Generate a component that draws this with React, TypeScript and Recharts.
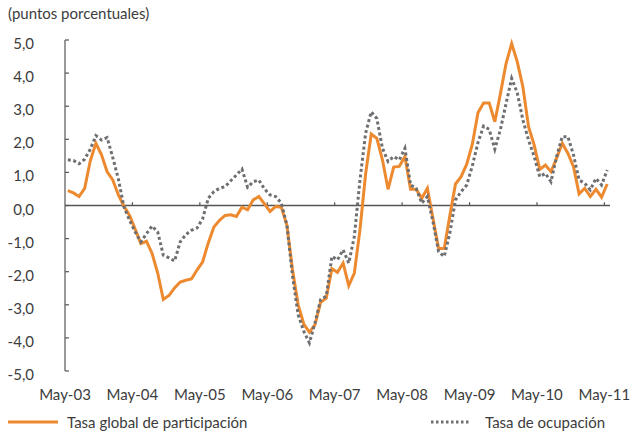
import React from "react";
import { LineChart, Line, XAxis, YAxis, ReferenceLine } from "recharts";

// monthly series, May-03 .. May-11 (97 points)
const tasaGlobal = [
  0.45, 0.38, 0.27, 0.52, 1.35, 1.88, 1.53, 1.02, 0.77, 0.32, -0.02, -0.3,
  -0.72, -1.15, -1.08, -1.45, -2.04, -2.84, -2.72, -2.49, -2.31, -2.26, -2.22, -1.95,
  -1.7, -1.13, -0.65, -0.45, -0.3, -0.28, -0.33, -0.05, -0.13, 0.17, 0.27, 0.05,
  -0.18, -0.03, -0.05, -0.6, -1.95, -3.0, -3.58, -3.83, -3.6, -2.92, -2.8, -1.91,
  -2.02, -1.74, -2.42, -2.04, -0.73, 0.95, 2.16, 2.03, 1.38, 0.49, 1.16, 1.18,
  1.48, 0.49, 0.49, 0.22, 0.52, -0.4, -1.3, -1.3, -0.3, 0.65, 0.87, 1.25,
  1.85, 2.8, 3.1, 3.1, 2.53, 3.38, 4.29, 4.89, 4.34, 3.58, 2.38, 1.83,
  1.09, 1.22, 1.02, 1.43, 1.88, 1.58, 1.17, 0.35, 0.52, 0.27, 0.49, 0.25,
  0.65,
];

const tasaOcupacion = [
  1.38, 1.36, 1.26, 1.4, 1.7, 2.11, 1.98, 2.05, 1.45, 0.8, -0.05, -0.45,
  -0.8, -1.1, -0.85, -0.62, -0.8, -1.5, -1.58, -1.68, -1.1, -0.88, -0.75, -0.68,
  -0.4, 0.22, 0.42, 0.52, 0.57, 0.75, 0.92, 1.1, 0.55, 0.72, 0.77, 0.5,
  0.32, 0.27, 0.07, -0.6, -2.14, -3.3, -3.8, -4.15, -3.54, -2.84, -2.74, -1.54,
  -1.64, -1.34, -1.74, -0.93, 0.77, 2.18, 2.83, 2.63, 1.73, 1.33, 1.48, 1.38,
  1.73, 0.62, 0.52, 0.07, 0.27, -0.5, -1.4, -1.54, -0.83, 0.17, 0.42, 0.62,
  1.2, 1.9, 2.4, 2.3, 1.7, 2.3, 3.08, 3.84, 3.4, 2.58, 1.98, 1.48,
  0.87, 0.97, 0.72, 1.48, 2.08, 2.08, 1.53, 0.77, 0.67, 0.47, 0.82, 0.62,
  1.07,
];

const yearLabels = [
  "May-03", "May-04", "May-05", "May-06", "May-07",
  "May-08", "May-09", "May-10", "May-11",
];

const yTicks = [-5, -4, -3, -2, -1, 0, 1, 2, 3, 4, 5];

const ORANGE = "#ED8A2F";
const GREY = "#6E6F72";
const AXIS = "#555555";
const TEXT = "#3c3c3c";
const FONT = "Lato, 'Open Sans', sans-serif";
const FS = 15;

// month i sits in the middle of its slot
const data = tasaGlobal.map((v, i) => ({
  x: i + 0.5,
  global: v,
  ocupacion: tasaOcupacion[i],
}));
const xTicks = yearLabels.map((_, i) => i * 12);

const fmt = (v: number) => v.toFixed(1).replace(".", ",");

// y labels sit a little below their tick marks, like the original
const YTick = (props: any) => {
  const { x, y, payload } = props;
  return (
    <text
      x={x}
      y={y + 9}
      textAnchor="end"
      fontSize={FS}
      fill={TEXT}
      fontFamily={FONT}
    >
      {fmt(payload.value)}
    </text>
  );
};

export default function App() {
  return (
    <div
      style={{
        position: "absolute",
        left: 0,
        top: 0,
        width: 640,
        height: 433,
        background: "#fff",
        fontFamily: FONT,
        color: TEXT,
      }}
    >
      <div style={{ position: "absolute", left: 8, top: 4, fontSize: FS }}>
        (puntos porcentuales)
      </div>
      <LineChart
        width={640}
        height={433}
        data={data}
        margin={{ top: 40, right: 30, left: 0, bottom: 32 }}
      >
        <XAxis
          dataKey="x"
          type="number"
          domain={[0, 97]}
          ticks={xTicks}
          tickFormatter={(v: number) => yearLabels[v / 12]}
          axisLine={false}
          tickLine={false}
          tickSize={0}
          tickMargin={18}
          height={30}
          tick={{ fill: TEXT, fontSize: FS, fontFamily: FONT }}
          interval={0}
        />
        <YAxis
          domain={[-5, 5]}
          ticks={yTicks}
          width={65}
          axisLine={{ stroke: AXIS, strokeWidth: 1.2 }}
          tickLine={{ stroke: AXIS, strokeWidth: 1.2 }}
          tickSize={-4}
          tickMargin={35}
          tick={<YTick />}
          interval={0}
        />
        <ReferenceLine y={0} stroke={AXIS} strokeWidth={1.5} />
        {xTicks.slice(1).map((t) => (
          <ReferenceLine
            key={t}
            segment={[
              { x: t, y: 0 },
              { x: t, y: 0.1 },
            ]}
            stroke={AXIS}
            strokeWidth={1.2}
          />
        ))}
        <Line
          dataKey="global"
          stroke={ORANGE}
          strokeWidth={3}
          dot={false}
          activeDot={false}
          isAnimationActive={false}
        />
        <Line
          dataKey="ocupacion"
          stroke={GREY}
          strokeWidth={3}
          strokeDasharray="3 2.6"
          dot={false}
          activeDot={false}
          isAnimationActive={false}
        />
      </LineChart>
      <svg
        width={640}
        height={24}
        style={{ position: "absolute", left: 0, top: 410 }}
      >
        <line x1={8} x2={58} y1={12} y2={12} stroke={ORANGE} strokeWidth={3} />
        <text x={67} y={18} fontSize={FS} fill={TEXT} fontFamily={FONT}>
          Tasa global de participación
        </text>
        <line
          x1={431}
          x2={470}
          y1={12}
          y2={12}
          stroke={GREY}
          strokeWidth={3}
          strokeDasharray="2.5 2.5"
        />
        <text x={485} y={18} fontSize={FS} fill={TEXT} fontFamily={FONT}>
          Tasa de ocupación
        </text>
      </svg>
    </div>
  );
}
